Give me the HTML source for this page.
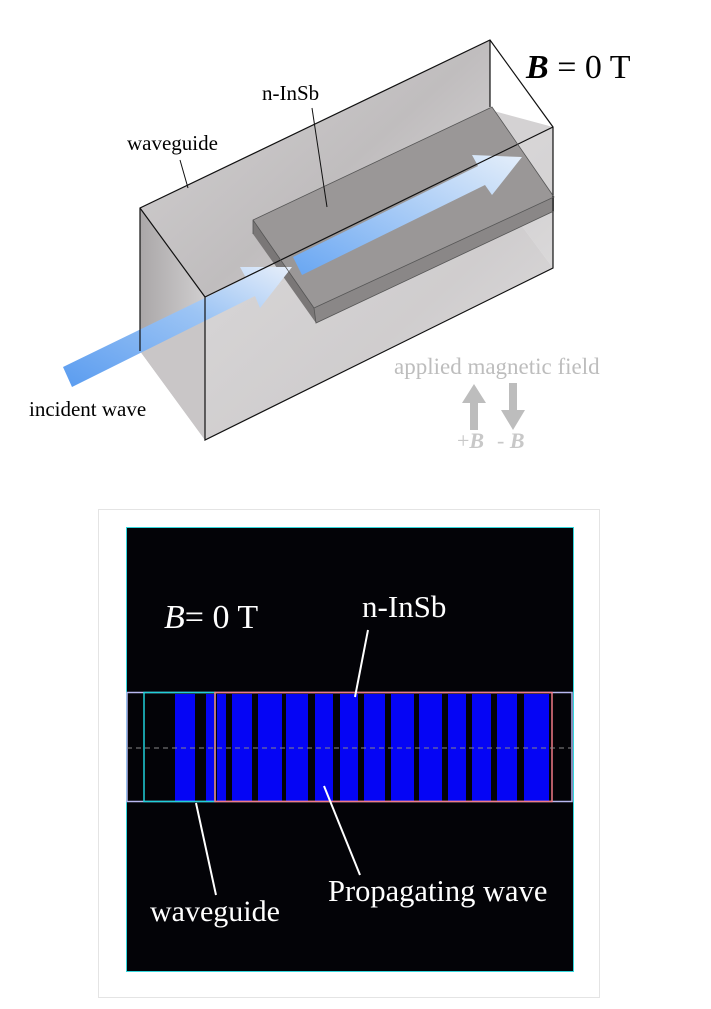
<!DOCTYPE html>
<html><head><meta charset="utf-8"><style>
html,body{margin:0;padding:0;background:#fff;}
svg{display:block;}
</style></head><body>
<svg width="711" height="1009" viewBox="0 0 711 1009" xmlns="http://www.w3.org/2000/svg" font-family="Liberation Serif, serif">
<defs>
<linearGradient id="g1" x1="0" y1="0" x2="1" y2="1"><stop offset="0" stop-color="#d4d2d3"/><stop offset="0.5" stop-color="#c0bdbe"/><stop offset="1" stop-color="#e4e3e4"/></linearGradient>
<linearGradient id="g2" x1="0" y1="0" x2="1" y2="0"><stop offset="0" stop-color="#aaa7a8"/><stop offset="1" stop-color="#d0cecf"/></linearGradient>
<linearGradient id="g3" x1="0" y1="0" x2="1" y2="1"><stop offset="0" stop-color="#eeeeee"/><stop offset="0.6" stop-color="#d6d4d5"/><stop offset="1" stop-color="#f8f8f8"/></linearGradient>
<linearGradient id="ab" x1="0" y1="1" x2="1" y2="0"><stop offset="0" stop-color="#5a9cf0"/><stop offset="0.6" stop-color="#9cc4f4"/><stop offset="1" stop-color="#e6eefa"/></linearGradient>
<linearGradient id="ab2" x1="0" y1="1" x2="1" y2="0"><stop offset="0" stop-color="#68a6f2"/><stop offset="1" stop-color="#e4eefa"/></linearGradient>
</defs>
<polygon points="140,208 490,40 490,183 140,351" fill="url(#g1)"/>
<polygon points="140,208 205,297 205,440 140,351" fill="url(#g2)"/>
<polygon points="140,351 490,183 553,268 205,440" fill="#c9c6c7"/>
<polygon points="490,110 553,127 553,268 490,183" fill="#d4d2d3"/>
<polygon points="205,297 553,127 553,268 205,440" fill="url(#g3)" opacity="0.5"/>
<polygon points="253,220 492,107 554,197 314,308" fill="#9a9797"/>
<polygon points="314,308 554,197 554,211 316,323" fill="#8a8787"/>
<polygon points="253,220 314,308 316,323 253,234" fill="#7a7777"/>
<polygon points="63,367 72,387 255,296 260,308 292,267 240,267 246,278" fill="url(#ab)"/>
<polygon points="293,257 302,275 485,185 492,195 522,157 472,155 478,166" fill="url(#ab2)"/>
<g stroke="#111" stroke-width="1.2" fill="none">
<polyline points="140,351 140,208 490,40 553,127 553,268 205,440 205,297 140,208"/>
<line x1="205" y1="297" x2="553" y2="127"/>
<line x1="490" y1="40" x2="490" y2="107"/>
</g>
<g stroke="#555" stroke-width="0.8" fill="none">
<polyline points="253,234 253,220 492,107 554,197 314,308 253,220"/>
<polyline points="314,308 316,323 554,211"/>
</g>
<line x1="180" y1="160" x2="188" y2="188" stroke="#111" stroke-width="1"/>
<line x1="312" y1="108" x2="327" y2="207" stroke="#111" stroke-width="1"/>
<text x="127" y="150" font-size="21">waveguide</text>
<text x="262" y="100" font-size="21">n-InSb</text>
<text x="29" y="416" font-size="21">incident wave</text>
<text x="526" y="78" font-size="34"><tspan font-weight="bold" font-style="italic">B</tspan> = 0 T</text>
<text x="394" y="374" font-size="23" fill="#bdbdbd">applied magnetic field</text>
<polygon points="470,430 478,430 478,403 486,403 474,384 462,403 470,403" fill="#bdbdbd"/>
<polygon points="509,383 517,383 517,410 525,410 513,430 501,410 509,410" fill="#bdbdbd"/>
<text x="457" y="448" font-size="22" fill="#c8c8c8">+<tspan font-style="italic" font-weight="bold">B</tspan></text>
<text x="497" y="448" font-size="22" fill="#c8c8c8">- <tspan font-style="italic" font-weight="bold">B</tspan></text>
<rect x="98.5" y="509.5" width="501" height="488" fill="#fff" stroke="#e4e4e4"/>
<rect x="126.5" y="527.5" width="447" height="444" fill="#030307" stroke="#33d6dc"/>
<g fill="#0505f5">
<rect x="175" y="694" width="20" height="107"/>
<rect x="206" y="694" width="8" height="107"/>
<rect x="217" y="694" width="9" height="107"/>
<rect x="232" y="694" width="20" height="107"/>
<rect x="258" y="694" width="24" height="107"/>
<rect x="286" y="694" width="22" height="107"/>
<rect x="315" y="694" width="18" height="107"/>
<rect x="340" y="694" width="18" height="107"/>
<rect x="364" y="694" width="21" height="107"/>
<rect x="391" y="694" width="23" height="107"/>
<rect x="419" y="694" width="23" height="107"/>
<rect x="448" y="694" width="18" height="107"/>
<rect x="472" y="694" width="19" height="107"/>
<rect x="497" y="694" width="20" height="107"/>
<rect x="524" y="694" width="25" height="107"/>
</g>
<rect x="127" y="692.5" width="445" height="109" fill="none" stroke="#b8b8f0" stroke-width="1.5"/>
<rect x="144" y="692.5" width="71" height="109" fill="none" stroke="#20d0d8" stroke-width="1.5"/>
<rect x="215" y="692.5" width="337" height="109" fill="none" stroke="#f07a86" stroke-width="1.5"/>
<line x1="127" y1="748" x2="572" y2="748" stroke="#888" stroke-width="1" stroke-dasharray="5,4"/>
<g stroke="#fff" stroke-width="2">
<line x1="368" y1="630" x2="355" y2="697"/>
<line x1="196" y1="803" x2="216" y2="895"/>
<line x1="324" y1="786" x2="360" y2="875"/>
</g>
<g fill="#fff">
<text x="164" y="628" font-size="34"><tspan font-style="italic">B</tspan>= 0 T</text>
<text x="362" y="617" font-size="31">n-InSb</text>
<text x="150" y="921" font-size="30">waveguide</text>
<text x="328" y="901" font-size="30.5">Propagating wave</text>
</g>
</svg>
</body></html>
